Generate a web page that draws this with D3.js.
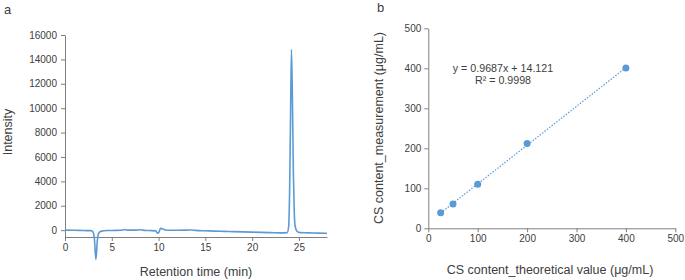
<!DOCTYPE html>
<html>
<head>
<meta charset="utf-8">
<script src="https://cdn.jsdelivr.net/npm/d3@7"></script>
<style>
  body { margin: 0; background: #fff; }
  svg { font-family: "Liberation Sans", Arial, sans-serif; }
</style>
</head>
<body>
<div id="chart"></div>
<script>
// panel a: chromatogram
const retTime = [0, 1, 2, 2.8, 3.0, 3.15, 3.3, 3.45, 3.6, 3.9, 4.5, 5.5, 6.2, 6.4, 6.6, 7.5, 8.0, 8.3, 9.0, 9.7, 9.9, 10.05, 10.2, 10.4, 10.7, 11.5, 13, 13.5, 14, 15, 16, 17, 18, 19, 20, 21, 22, 23, 23.75, 23.9, 24.0, 24.1, 24.2, 24.3, 24.4, 24.5, 24.6, 24.8, 25.1, 26, 27, 28];
const intensity = [0, -10, -30, -40, -150, -800, -2400, -900, -250, -80, -30, -20, 10, 50, 0, 0, 30, 0, -30, -60, -250, -150, 150, 120, 20, -10, 0, 20, -20, -50, -80, -100, -120, -140, -160, -180, -200, -220, -200, 300, 3000, 9000, 14800, 11000, 5000, 1500, 300, -100, -200, -220, -240, -260];
const intensityTicks = [0, 2000, 4000, 6000, 8000, 10000, 12000, 14000, 16000];
const timeTicks = [0, 5, 10, 15, 20, 25];

// panel b: calibration
const theoretical = [25, 50, 100, 200, 400];
const measured = [39, 61, 110, 212, 401];
const slope = 0.9687, intercept = 14.121;
const calTicks = [0, 100, 200, 300, 400, 500];

const blue = "#5b9bd5", axisCol = "#7f7f7f", textCol = "#404040";

const svg = d3.select("#chart").append("svg")
    .attr("width", 685)
    .attr("height", 280);

function styleAxis(g) {
    g.select(".domain").attr("stroke", axisCol);
    g.selectAll(".tick line").attr("stroke", axisCol);
    g.selectAll(".tick text").attr("fill", textCol).style("font-size", "10px")
        .style("font-family", "Liberation Sans, Arial, sans-serif");
}

// ---- panel a ----
const xA = d3.scaleLinear().domain([0, 28]).range([65, 327]);
const yA = d3.scaleLinear().domain([-560, 16000]).range([237, 35]);

svg.append("g")
    .attr("transform", "translate(0,237)")
    .call(d3.axisBottom(xA).tickValues(timeTicks).tickFormat(d3.format("d"))
        .tickSize(4).tickPadding(3).tickSizeOuter(0))
    .call(styleAxis);

svg.append("g")
    .attr("transform", "translate(65,0)")
    .call(d3.axisLeft(yA).tickValues(intensityTicks).tickFormat(d3.format("d"))
        .tickSize(4).tickPadding(4).tickSizeOuter(0))
    .call(styleAxis);

const chrom = retTime.map((t, i) => [t, intensity[i]]);
svg.append("path")
    .datum(chrom)
    .attr("fill", "none")
    .attr("stroke", blue)
    .attr("stroke-width", 1.6)
    .attr("d", d3.line().x(d => xA(d[0])).y(d => yA(d[1])).curve(d3.curveMonotoneX));

svg.append("text").attr("x", 4).attr("y", 14).attr("fill", textCol)
    .style("font-size", "13px").text("a");
svg.append("text").attr("x", 196).attr("y", 276).attr("text-anchor", "middle")
    .attr("fill", textCol).style("font-size", "12.5px").text("Retention time (min)");
svg.append("text").attr("transform", "translate(12,132) rotate(-90)")
    .attr("text-anchor", "middle").attr("fill", textCol)
    .style("font-size", "12.5px").text("Intensity");

// ---- panel b ----
const xB = d3.scaleLinear().domain([0, 500]).range([428.3, 675.3]);
const yB = d3.scaleLinear().domain([0, 500]).range([228.3, 28.3]);

svg.append("g")
    .attr("transform", "translate(0,228.3)")
    .call(d3.axisBottom(xB).tickValues(calTicks).tickSize(4).tickPadding(3).tickSizeOuter(0))
    .call(styleAxis);

svg.append("g")
    .attr("transform", "translate(428.3,0)")
    .call(d3.axisLeft(yB).tickValues(calTicks).tickSize(4).tickPadding(3).tickSizeOuter(0))
    .call(styleAxis);

const xMin = d3.min(theoretical), xMax = d3.max(theoretical);
svg.append("line")
    .attr("x1", xB(xMin)).attr("y1", yB(slope * xMin + intercept))
    .attr("x2", xB(xMax)).attr("y2", yB(slope * xMax + intercept))
    .attr("stroke", blue).attr("stroke-width", 1.2)
    .attr("stroke-dasharray", "1.5,1.5");

svg.selectAll("circle.pt")
    .data(theoretical)
    .join("circle")
    .attr("class", "pt")
    .attr("cx", d => xB(d))
    .attr("cy", (d, i) => yB(measured[i]))
    .attr("r", 3.5)
    .attr("fill", blue);

svg.append("text").attr("x", 503).attr("y", 72).attr("text-anchor", "middle")
    .attr("fill", textCol).style("font-size", "10.7px")
    .text("y = " + slope + "x + " + intercept);
svg.append("text").attr("x", 503).attr("y", 84).attr("text-anchor", "middle")
    .attr("fill", textCol).style("font-size", "10.7px").text("R² = 0.9998");

svg.append("text").attr("x", 377).attr("y", 12).attr("fill", textCol)
    .style("font-size", "13px").text("b");
svg.append("text").attr("x", 550).attr("y", 274).attr("text-anchor", "middle")
    .attr("fill", textCol).style("font-size", "12.5px")
    .text("CS content_theoretical value (μg/mL)");
svg.append("text").attr("transform", "translate(383,128) rotate(-90)")
    .attr("text-anchor", "middle").attr("fill", textCol)
    .style("font-size", "12.5px").text("CS content_measurement (μg/mL)");
</script>
</body>
</html>
